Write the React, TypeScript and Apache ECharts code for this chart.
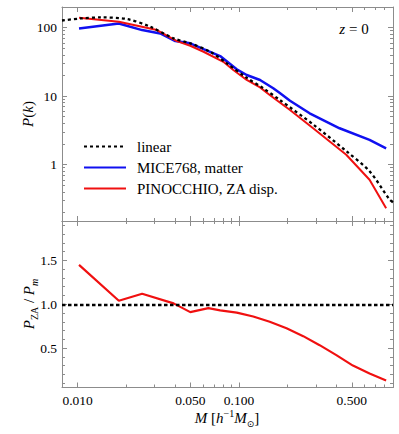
import React, { useEffect, useRef } from 'react';
import * as echarts from 'echarts';

// ---- data ----
const kLinear = [0.008, 0.0104, 0.0139, 0.0203, 0.0282, 0.0393, 0.0499, 0.0663, 0.084, 0.1116, 0.1413, 0.179, 0.288, 0.462, 0.644, 0.855, 0.9];
const pLinear = [127, 136, 141, 133, 103, 69.7, 58.9, 44.4, 30.1, 18.5, 13.0, 8.78, 3.86, 1.57, 0.8, 0.311, 0.28];

const kMice = [0.0102, 0.018, 0.0251, 0.0325, 0.0403, 0.0499, 0.0603, 0.0764, 0.0968, 0.1116, 0.135, 0.163, 0.179, 0.207, 0.274, 0.42, 0.644, 0.816];
const pMice = [97.3, 115, 92, 82.3, 63.6, 58.9, 48.6, 38.4, 24.6, 20.3, 17.2, 13.0, 11.1, 8.57, 5.61, 3.39, 2.29, 1.73];

const kPin = [0.0102, 0.018, 0.031, 0.0412, 0.0499, 0.0603, 0.08, 0.0922, 0.1116, 0.135, 0.155, 0.179, 0.207, 0.288, 0.462, 0.644, 0.816];
const pPin = [139, 121.6, 92, 63.6, 54.3, 44.4, 31.7, 24.0, 17.2, 13.4, 10.4, 8.07, 6.27, 3.39, 1.39, 0.6, 0.231];

const kRatio = [0.0102, 0.018, 0.0251, 0.0393, 0.0499, 0.0646, 0.0764, 0.0968, 0.1225, 0.155, 0.197, 0.25, 0.316, 0.401, 0.508, 0.644, 0.816];
const ratio = [1.45, 1.04, 1.12, 1.01, 0.91, 0.955, 0.93, 0.905, 0.86, 0.8, 0.725, 0.636, 0.533, 0.42, 0.3, 0.21, 0.13];

const xMajorTicks = [0.01, 0.05, 0.1, 0.5];
const xMinorTicks = [0.02, 0.03, 0.04, 0.06, 0.07, 0.08, 0.09, 0.2, 0.3, 0.4, 0.6, 0.7, 0.8];
const pMajorTicks = [1, 10, 100];
const pMinorTicks = [0.2, 0.3, 0.4, 0.5, 0.6, 0.7, 0.8, 0.9, 2, 3, 4, 5, 6, 7, 8, 9, 20, 30, 40, 50, 60, 70, 80, 90];
const rMajorTicks = [0.5, 1.0, 1.5];
const rMinorTicks = [0.1, 0.2, 0.3, 0.4, 0.6, 0.7, 0.8, 0.9, 1.1, 1.2, 1.3, 1.4, 1.6, 1.7, 1.8, 1.9];

const legendNames = ['linear', 'MICE768, matter', 'PINOCCHIO, ZA disp.'];

const FONT = 'Liberation Serif';
const FRAME = '#8c8c8c';

function xAxis(grid: number, position: string, ticks: number[], len: number, showLine: boolean, labels: boolean) {
  return {
    type: 'log', logBase: 10, gridIndex: grid, position, min: 0.008, max: 0.9,
    axisLine: { show: showLine, onZero: false, lineStyle: { color: FRAME, width: 1 } },
    axisTick: { show: true, inside: true, length: len, customValues: ticks, lineStyle: { color: FRAME, width: 1 } },
    axisLabel: labels
      ? { show: true, customValues: xMajorTicks, formatter: (v: number) => v.toFixed(3), margin: 6, color: '#000', fontFamily: FONT, fontSize: 13.5 }
      : { show: false },
    splitLine: { show: false },
  };
}

function pAxis(position: string, ticks: number[], len: number, showLine: boolean, labels: boolean) {
  return {
    type: 'log', logBase: 10, gridIndex: 0, position, min: 0.15, max: 200,
    axisLine: { show: showLine, onZero: false, lineStyle: { color: FRAME, width: 1 } },
    axisTick: { show: true, inside: true, length: len, customValues: ticks, lineStyle: { color: FRAME, width: 1 } },
    axisLabel: labels
      ? { show: true, customValues: pMajorTicks, formatter: (v: number) => String(Math.round(v)), margin: 5, color: '#000', fontFamily: FONT, fontSize: 13.5 }
      : { show: false },
    splitLine: { show: false },
  };
}

function rAxis(position: string, ticks: number[], len: number, showLine: boolean, labels: boolean) {
  return {
    type: 'value', gridIndex: 1, position, min: 0.05, max: 1.95,
    axisLine: { show: showLine, onZero: false, lineStyle: { color: FRAME, width: 1 } },
    axisTick: { show: true, inside: true, length: len, customValues: ticks, lineStyle: { color: FRAME, width: 1 } },
    axisLabel: labels
      ? { show: true, customValues: rMajorTicks, formatter: (v: number) => v.toFixed(1), margin: 5, color: '#000', fontFamily: FONT, fontSize: 13.5 }
      : { show: false },
    splitLine: { show: false },
  };
}

const zip = (a: number[], b: number[]) => a.map((v, i) => [v, b[i]]);

export default function App() {
  const ref = useRef<HTMLDivElement>(null);
  useEffect(() => {
    document.body.style.margin = '0';
    if (!ref.current) return;
    const chart = echarts.init(ref.current, null, { renderer: 'svg' });
    const option: any = {
      animation: false,
      backgroundColor: '#fff',
      grid: [
        { left: 62, top: 7, width: 331, height: 214, outerBoundsMode: 'none' },
        { left: 62, top: 221, width: 331, height: 166.5, outerBoundsMode: 'none' },
      ],
      xAxis: [
        xAxis(0, 'bottom', xMajorTicks, 5, true, false),
        xAxis(0, 'bottom', xMinorTicks, 3, false, false),
        xAxis(0, 'top', xMajorTicks, 5, true, false),
        xAxis(0, 'top', xMinorTicks, 3, false, false),
        xAxis(1, 'bottom', xMajorTicks, 5, true, true),
        xAxis(1, 'bottom', xMinorTicks, 3, false, false),
        xAxis(1, 'top', xMajorTicks, 5, true, false),
        xAxis(1, 'top', xMinorTicks, 3, false, false),
      ],
      yAxis: [
        pAxis('left', pMajorTicks, 5, true, true),
        pAxis('left', pMinorTicks, 3, false, false),
        pAxis('right', pMajorTicks, 5, true, false),
        pAxis('right', pMinorTicks, 3, false, false),
        rAxis('left', rMajorTicks, 5, true, true),
        rAxis('left', rMinorTicks, 3, false, false),
        rAxis('right', rMajorTicks, 5, true, false),
        rAxis('right', rMinorTicks, 3, false, false),
      ],
      legend: {
        show: true, orient: 'vertical', left: 83, top: 139, padding: 0, itemGap: 6,
        itemWidth: 42, itemHeight: 14, selectedMode: false, data: legendNames,
        itemStyle: { opacity: 0 },
        textStyle: { fontFamily: FONT, fontSize: 15, color: '#000', padding: [0, 0, 0, 6] },
      },
      series: [
        {
          name: legendNames[1], type: 'line', xAxisIndex: 0, yAxisIndex: 0, symbol: 'circle', showSymbol: false, z: 2,
          data: zip(kMice, pMice), lineStyle: { color: '#1010f0', width: 2.5 }, itemStyle: { color: '#1010f0' },
        },
        {
          name: legendNames[2], type: 'line', xAxisIndex: 0, yAxisIndex: 0, symbol: 'circle', showSymbol: false, z: 3,
          data: zip(kPin, pPin), lineStyle: { color: '#f01010', width: 2 }, itemStyle: { color: '#f01010' },
        },
        {
          name: legendNames[0], type: 'line', xAxisIndex: 0, yAxisIndex: 0, symbol: 'circle', showSymbol: false, z: 4, smooth: 0.3,
          data: zip(kLinear, pLinear), lineStyle: { color: '#000', width: 2.3, type: [3, 3] }, itemStyle: { color: '#000' },
        },
        {
          name: 'ratio', type: 'line', xAxisIndex: 4, yAxisIndex: 4, symbol: 'none', z: 3,
          data: zip(kRatio, ratio), lineStyle: { color: '#f01010', width: 2.2 }, itemStyle: { color: '#f01010' },
          markLine: {
            silent: true, symbol: ['none', 'none'], label: { show: false },
            lineStyle: { color: '#000', width: 2.3, type: [3.5, 2.5] },
            data: [{ yAxis: 1 }],
          },
        },
      ],
      graphic: [
        {
          type: 'text', x: 354, y: 29,
          style: {
            text: '{i|z} = 0', fontFamily: FONT, fontSize: 15, fill: '#000', align: 'center', verticalAlign: 'middle',
            rich: { i: { fontFamily: FONT, fontSize: 15, fontStyle: 'italic', fill: '#000' } },
          },
        },
        {
          type: 'text', x: 28, y: 114, rotation: Math.PI / 2,
          style: {
            text: '{i|P}({i|k})', fontFamily: FONT, fontSize: 15, fill: '#000', align: 'center', verticalAlign: 'middle',
            rich: { i: { fontFamily: FONT, fontSize: 15, fontStyle: 'italic', fill: '#000' } },
          },
        },
        {
          type: 'text', x: 29, y: 304, rotation: Math.PI / 2,
          style: {
            text: '{i|P}{s|ZA} / {i|P}{si|m}', fontFamily: FONT, fontSize: 15, lineHeight: 20, fill: '#000', align: 'center', verticalAlign: 'middle',
            rich: {
              i: { fontFamily: FONT, fontSize: 15, lineHeight: 20, fontStyle: 'italic', fill: '#000' },
              s: { fontFamily: FONT, fontSize: 10, lineHeight: 10, verticalAlign: 'bottom', fill: '#000' },
              si: { fontFamily: FONT, fontSize: 10, lineHeight: 10, fontStyle: 'italic', verticalAlign: 'bottom', fill: '#000' },
            },
          },
        },
        {
          type: 'text', x: 227, y: 418,
          style: {
            text: '{i|M} [{i|h}{sup|−1}{i|M}{sub|⊙}]', fontFamily: FONT, fontSize: 15, lineHeight: 20, fill: '#000', align: 'center', verticalAlign: 'middle',
            rich: {
              i: { fontFamily: FONT, fontSize: 15, lineHeight: 20, fontStyle: 'italic', fill: '#000' },
              sup: { fontFamily: FONT, fontSize: 10, lineHeight: 10, verticalAlign: 'top', fill: '#000' },
              sub: { fontFamily: 'DejaVu Sans', fontSize: 9, lineHeight: 9, verticalAlign: 'bottom', fill: '#000' },
            },
          },
        },
      ],
    };
    chart.setOption(option);
    return () => chart.dispose();
  }, []);
  return <div ref={ref} style={{ width: 399, height: 434 }} />;
}
